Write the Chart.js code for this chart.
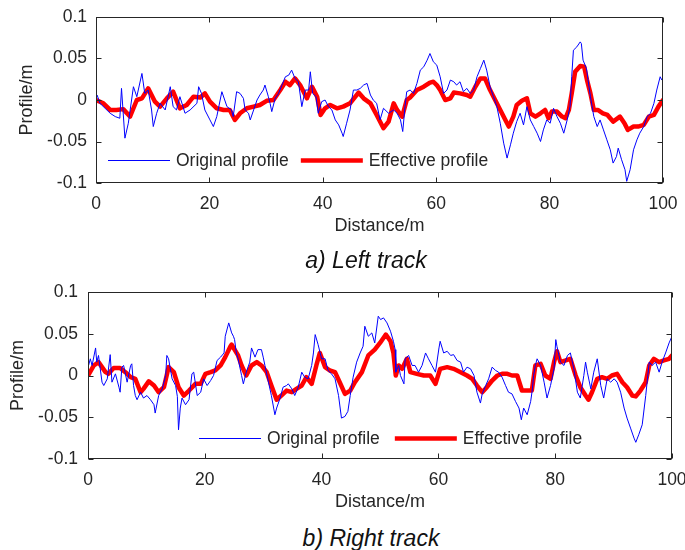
<!DOCTYPE html>
<html>
<head>
<meta charset="utf-8">
<script src="https://cdn.jsdelivr.net/npm/chart.js@4.4.0/dist/chart.umd.min.js"></script>
<style>
body{margin:0;background:#fff;width:685px;height:550px;position:relative;overflow:hidden;font-family:"Liberation Sans",Arial,sans-serif}
canvas{position:absolute;left:0}
.cap{position:absolute;font-style:italic;font-size:23px;line-height:23px;color:#111;white-space:nowrap;transform:translateX(-50%)}
</style>
</head>
<body>
<canvas id="leftTrack" width="685" height="240" style="top:0"></canvas>
<canvas id="rightTrack" width="685" height="250" style="top:270px"></canvas>
<div class="cap" style="left:366px;top:249px">a) Left track</div>
<div class="cap" style="left:371px;top:527px">b) Right track</div>
<script>
// left track, original profile (distance m / profile m)
var leftOrigDist=[0.2,0.7,1.6,2.5,3.4,4.2,4.5,5.1,5.7,6.6,7.2,8.1,8.6,9.2,9.8,10.1,10.7,11.3,12.2,13.1,13.6,14.2,14.8,15.7,16.6,17.8,18.1,18.6,19.2,20.1,20.7,21.3,22.2,23.1,23.9,24.2,24.8,25.4,26.0,26.3,26.9,27.2,27.8,28.4,28.9,29.5,29.8,30.4,30.7,31.0,31.6,32.2,32.8,33.4,34.0,34.5,35.1,35.7,36.3,36.9,37.5,37.8,38.2,38.8,39.2,39.8,40.4,41.0,41.6,42.2,42.8,43.4,43.6,44.2,44.8,45.4,46.0,46.6,47.2,47.8,48.4,48.9,49.5,50.1,50.7,51.6,52.5,53.1,53.7,54.1,54.5,54.8,55.4,56.0,56.6,57.2,57.8,58.4,58.9,59.5,60.1,60.7,61.3,61.9,62.5,63.1,63.6,64.2,64.8,65.4,66.0,66.6,67.2,67.8,68.4,68.9,69.5,70.1,70.7,71.3,71.9,72.5,73.1,73.6,74.2,74.8,75.4,76.0,76.6,77.2,77.8,78.4,78.9,79.5,80.1,80.7,81.3,81.9,82.5,83.1,83.6,83.9,84.2,84.8,85.4,85.6,85.9,86.5,87.2,87.8,88.4,88.9,89.5,90.1,90.7,91.2,91.8,92.1,92.7,93.3,93.6,94.2,94.8,95.4,95.9,96.6,97.2,97.8,98.4,98.9,99.5,99.8];
var leftOrigVal=[0.006,-0.004,-0.010,-0.016,-0.020,-0.022,0.014,-0.046,-0.028,0.016,0.004,0.032,0.008,0.012,-0.012,-0.032,-0.016,-0.004,-0.012,0.016,-0.008,-0.012,0.004,-0.016,-0.012,-0.004,0.016,0.008,-0.012,-0.024,-0.032,-0.020,0.010,-0.008,-0.012,-0.020,0.010,0.008,0.002,-0.012,-0.016,-0.024,-0.012,0,0.006,0.012,0.018,0.004,-0.004,-0.014,0.002,0.008,0.018,0.028,0.030,0.036,0.026,0.022,-0.008,0.012,0.012,0.034,0.008,0.004,-0.016,-0.002,0,-0.008,-0.012,-0.024,-0.030,-0.040,-0.044,-0.028,-0.012,0.012,0.012,0.014,0.018,0.020,0.006,0,-0.004,-0.024,-0.010,-0.016,-0.012,-0.016,-0.024,-0.038,-0.008,0.010,0.012,0.008,0.020,0.036,0.040,0.048,0.056,0.046,0.042,0.028,0.008,0.012,0.024,0.022,0.018,0.022,0.010,0.014,0.008,0.012,0.028,0.038,0.048,0.036,0.016,0.004,-0.008,-0.028,-0.052,-0.070,-0.054,-0.040,-0.026,-0.016,-0.030,-0.008,-0.024,-0.032,-0.040,-0.050,-0.036,-0.024,-0.028,-0.010,-0.020,-0.028,-0.040,-0.024,-0.008,0.028,0.060,0.064,0.070,0.068,0.048,0.038,0.004,-0.020,-0.032,-0.024,-0.036,-0.048,-0.060,-0.076,-0.068,-0.058,-0.072,-0.084,-0.098,-0.084,-0.060,-0.048,-0.040,-0.032,-0.020,-0.016,-0.004,0.012,0.028,0.024];
// left track, effective profile
var leftEffDist=[0,1.3,2.5,3.6,4.8,6.0,7.2,8.1,9.2,10.4,11.3,12.5,13.6,14.8,16.0,17.2,18.4,19.2,20.1,21.3,22.5,23.6,24.5,25.4,26.6,27.8,28.9,30.1,31.3,32.5,33.4,34.2,35.1,36.0,37.2,38.1,39.0,39.6,40.4,41.3,42.5,43.6,44.8,46.3,47.2,48.4,49.5,50.7,51.6,52.5,53.1,54.0,54.8,55.4,56.6,57.8,58.9,59.5,60.1,60.7,61.6,62.5,63.1,64.2,65.4,66.0,66.9,67.8,68.6,69.5,70.4,71.3,72.2,72.8,73.6,74.2,75.1,76.0,76.6,77.5,78.4,79.2,79.8,80.4,81.3,82.2,82.8,83.4,83.9,84.5,85.4,86.1,86.6,87.2,87.8,88.5,89.4,90.2,91.2,92.4,93.2,93.8,94.8,95.6,96.6,97.5,98.4,99.2,100];
var leftEffVal=[0,-0.004,-0.012,-0.012,-0.011,-0.020,0,0.002,0.014,-0.002,-0.008,0.002,0.010,-0.010,-0.006,0.004,0.003,0.008,-0.002,-0.010,-0.012,-0.012,-0.024,-0.016,-0.010,-0.008,-0.006,-0.001,0,0.012,0.022,0.018,0.026,0.018,0.002,0.016,0.004,-0.018,-0.010,-0.006,-0.010,-0.008,-0.004,0.009,0.002,-0.004,-0.018,-0.034,-0.026,-0.004,-0.012,-0.020,0,0.003,0.012,0.016,0.021,0.022,0.018,0.012,0,0.002,0.009,0.008,0.006,0.004,0.016,0.026,0.026,0.012,0,-0.012,-0.024,-0.032,-0.020,-0.006,-0.001,0.002,-0.016,-0.020,-0.016,-0.012,-0.022,-0.014,-0.014,-0.020,-0.022,-0.012,0.008,0.034,0.041,0.040,0.024,0.008,-0.012,-0.012,-0.016,-0.018,-0.026,-0.020,-0.028,-0.036,-0.032,-0.032,-0.030,-0.020,-0.018,-0.008,0];
// right track, original profile
var rightOrigDist=[0.1,0.4,0.7,1.3,1.5,1.8,2.1,2.4,2.7,3.3,3.8,4.1,4.7,5.3,5.5,5.8,6.1,6.7,7.3,7.5,7.8,8.1,8.4,9.0,9.5,10.1,10.7,11.3,11.5,12.1,12.7,13.3,13.5,13.8,14.4,15.0,15.3,15.5,15.8,16.1,16.7,17.3,17.8,18.1,18.7,19.3,19.8,20.4,21.0,21.5,22.1,22.7,23.3,23.5,24.1,24.6,24.9,25.1,25.4,25.7,26.3,26.6,27.1,27.7,28.0,28.6,29.1,29.7,30.0,30.3,30.9,31.4,32.0,32.3,32.9,33.4,34.0,34.3,34.9,35.4,36.0,36.6,37.1,37.7,38.3,38.6,38.9,39.4,40.0,40.6,41.1,41.7,42.3,42.9,43.4,44.0,44.5,44.9,45.4,46.0,46.6,47.1,47.4,48.0,48.6,49.1,49.7,50.1,50.6,51.2,51.8,52.3,52.6,52.7,53.2,53.5,54.1,54.3,54.9,55.5,56.0,56.6,57.2,57.8,58.3,58.9,59.5,60.1,60.3,60.9,61.5,62.1,62.6,63.2,63.8,64.3,64.9,65.5,66.1,66.6,67.2,67.5,68.1,68.6,69.2,69.8,70.3,70.9,71.5,72.0,72.6,73.2,73.8,74.2,74.6,75.2,75.8,76.1,76.3,76.6,76.9,77.5,78.1,78.6,79.2,79.8,80.1,80.3,80.9,81.5,82.1,82.6,83.2,83.8,84.3,84.9,85.2,85.5,86.1,86.6,87.2,87.8,88.3,88.9,89.5,90.1,90.6,91.2,91.8,92.3,92.9,93.5,93.8,94.3,94.9,95.5,96.1,96.6,97.2,97.8,98.3,98.9,99.5,100];
var rightOrigVal=[0.012,0.020,0.012,0.033,0.016,0.024,0.008,-0.008,-0.012,-0.004,0.025,-0.008,0.002,-0.014,-0.020,0.010,0.012,-0.008,0.012,0.014,-0.012,-0.024,-0.029,-0.020,-0.027,-0.024,-0.029,-0.035,-0.045,-0.024,-0.016,0,0.024,0.020,-0.004,-0.012,-0.025,-0.065,-0.039,-0.027,-0.035,-0.029,0.002,0.004,-0.024,-0.020,-0.004,-0.012,-0.006,0,0.018,0.022,0.027,0.047,0.063,0.051,0.047,0.043,0.027,0.020,0,-0.010,0.004,0.016,0.033,0.022,0.031,0.031,0.022,0.012,-0.008,-0.024,-0.047,-0.039,-0.027,-0.014,-0.012,-0.010,-0.016,-0.024,-0.014,0.004,-0.002,-0.004,0.012,0.027,0.049,0.037,0.020,0.020,0.006,0.002,-0.004,-0.024,-0.051,-0.049,-0.043,-0.024,-0.002,0.016,0.027,0.035,0.059,0.047,0.051,0.039,0.071,0.067,0.069,0.063,0.053,0.041,0.031,0.004,0.012,0,-0.010,0.020,0.024,0.012,0.012,0.004,0.012,0.027,0.020,0.012,0.004,0.033,0.041,0.027,0.029,0.024,0.025,0.018,0.016,0.004,0.010,0.008,0,-0.020,-0.033,-0.022,-0.012,-0.004,0.010,0.006,0.004,-0.002,-0.012,-0.020,-0.022,-0.031,-0.039,-0.053,-0.039,-0.047,-0.031,-0.016,0,0.012,0.020,0.012,-0.008,-0.027,-0.012,0.008,0.043,0.035,0.016,0.012,0.024,0.027,0.008,-0.020,-0.027,0,0.016,0.004,-0.016,0.004,0.020,-0.012,-0.027,-0.004,-0.008,-0.004,-0.008,-0.020,-0.039,-0.051,-0.063,-0.075,-0.080,-0.071,-0.059,-0.024,0.016,0.012,0.016,0.004,0.016,0.027,0.039,0.047];
// right track, effective profile
var rightEffDist=[0.1,1.0,1.8,3.0,3.5,4.4,5.5,6.4,7.3,8.1,9.0,9.5,10.4,11.3,12.1,13.0,13.8,14.7,15.5,16.4,17.3,18.4,19.3,20.1,21.0,21.8,22.7,23.5,24.4,24.6,25.1,25.7,26.3,27.1,28.0,28.9,29.7,30.6,31.4,32.3,33.1,34.0,34.9,35.7,36.6,37.4,38.3,39.1,39.7,40.6,41.4,42.3,43.1,44.0,44.9,45.7,46.9,48.0,49.1,50.0,51.0,51.8,52.3,52.7,53.2,53.8,54.6,55.2,56.3,57.5,58.6,59.5,60.3,61.5,62.6,63.8,64.9,65.8,66.6,67.5,68.3,69.2,70.1,70.9,71.8,72.6,73.5,74.3,75.2,76.0,76.6,77.5,78.3,79.2,79.8,80.3,80.9,81.8,82.6,83.5,84.3,85.2,85.7,86.3,87.2,88.0,88.9,89.7,90.6,91.5,92.3,93.2,93.8,94.6,95.5,96.1,96.9,97.8,98.6,99.5,100];
var rightEffVal=[0.001,0.012,0.016,0.004,0.002,0.009,0.009,0.004,-0.002,-0.004,-0.020,-0.016,-0.007,-0.012,-0.020,-0.014,0.010,0.004,-0.014,-0.024,-0.018,-0.010,-0.010,0.002,0.004,0.006,0.012,0.022,0.035,0.037,0.031,0.024,0.012,0,0.012,0.016,0.012,0.004,-0.012,-0.029,-0.024,-0.018,-0.020,-0.016,-0.012,-0.002,-0.010,0.012,0.027,0.010,0.006,0.004,-0.008,-0.022,-0.018,-0.008,0.004,0.024,0.031,0.039,0.049,0.041,0.027,0,0.012,0.008,0.020,0.004,0.002,0,0,-0.010,0.008,0.010,0.008,0.004,0,-0.004,-0.012,-0.020,-0.014,-0.006,0,0.002,0.002,0,0,-0.018,-0.018,-0.018,0.012,0.014,0,-0.004,0.016,0.029,0.016,0.018,0.020,0,-0.014,-0.024,-0.029,-0.020,-0.004,-0.002,-0.004,0,0.002,-0.008,-0.014,-0.024,-0.025,-0.018,-0.008,0.012,0.020,0.016,0.018,0.020,0.024];

var xTicks=[0,20,40,60,80,100];
var yTicks=[-0.1,-0.05,0,0.05,0.1];
var seriesNames=['Original profile','Effective profile'];

var fontFamily='"Liberation Sans", Arial, sans-serif';
var textColor='#262626';

function pts(xs,ys){
	var out=[];
	for(var i in xs){ out.push({x:xs[i],y:ys[i]}); }
	return out;
}

// box with inward ticks + legend inside the plot, MATLAB style
var frameLegend={
	id:'frameLegend',
	afterDatasetsDraw:function(chart){
		var ctx=chart.ctx, a=chart.chartArea, sx=chart.scales.x, sy=chart.scales.y;
		var l=Math.round(a.left)+0.5, r=Math.round(a.right)-0.5, t=Math.round(a.top)+0.5, b=Math.round(a.bottom)-0.5;
		ctx.save();
		ctx.strokeStyle='#262626';
		ctx.lineWidth=1;
		ctx.beginPath();
		sx.ticks.forEach(function(tk){
			var px=Math.round(sx.getPixelForValue(tk.value))+0.5;
			ctx.moveTo(px,b); ctx.lineTo(px,b-5);
			ctx.moveTo(px,t); ctx.lineTo(px,t+5);
		});
		sy.ticks.forEach(function(tk){
			var py=Math.round(sy.getPixelForValue(tk.value))+0.5;
			ctx.moveTo(l,py); ctx.lineTo(l+5,py);
			ctx.moveTo(r,py); ctx.lineTo(r-5,py);
		});
		ctx.stroke();
		ctx.strokeRect(l,t,r-l,b-t);

		var lg=chart.options.plugins.frameLegend;
		var x=a.left+lg.dx, y=Math.round(a.bottom-lg.dy)+0.5;
		ctx.font='17.5px '+fontFamily;
		ctx.textBaseline='middle';
		ctx.fillStyle=textColor;
		chart.data.datasets.forEach(function(ds){
			ctx.strokeStyle=ds.borderColor;
			ctx.lineWidth=ds.borderWidth;
			ctx.beginPath();
			ctx.moveTo(x,y); ctx.lineTo(x+62,y);
			ctx.stroke();
			ctx.fillText(ds.label,x+68,y+1);
			x+=68+ctx.measureText(ds.label).width+lg.gap;
		});
		ctx.restore();
	}
};

function makeChart(id,origDist,origVal,effDist,effVal,box){
	var ctx=document.getElementById(id);
	return new Chart(ctx,{
		type:'scatter',
		data:{
			datasets:[
				{
					label:seriesNames[0],
					data:pts(origDist,origVal),
					showLine:true,
					borderColor:'#0000ff',
					borderWidth:1,
					pointRadius:0,
					tension:0
				},
				{
					label:seriesNames[1],
					data:pts(effDist,effVal),
					showLine:true,
					borderColor:'#ff0000',
					borderWidth:4.5,
					pointRadius:0,
					tension:0,
					borderJoinStyle:'round',
					borderCapStyle:'round'
				}
			]
		},
		options:{
			responsive:false,
			animation:false,
			devicePixelRatio:1,
			layout:{padding:{left:0,top:box.top,right:685-box.right,bottom:0}},
			plugins:{
				legend:{display:false},
				tooltip:{enabled:false},
				frameLegend:{dx:box.legDx,dy:box.legDy,gap:box.legGap}
			},
			scales:{
				x:{
					type:'linear',
					min:0,max:100,
					afterBuildTicks:function(s){ s.ticks=xTicks.map(function(v){return {value:v};}); },
					// fixed box: no extra room for edge labels
					afterFit:function(s){ s.height=ctx.height-box.bottom; s.paddingLeft=0; s.paddingRight=0; },
					grid:{display:false,drawTicks:false},
					border:{display:false},
					ticks:{autoSkip:false,maxRotation:0,padding:box.xTickPad,color:textColor,font:{family:fontFamily,size:17.5}},
					title:{display:true,text:'Distance/m',color:textColor,font:{family:fontFamily,size:18},padding:{top:0,bottom:box.xTitlePad}}
				},
				y:{
					min:-0.1,max:0.1,
					afterBuildTicks:function(s){ s.ticks=yTicks.map(function(v){return {value:v};}); },
					afterFit:function(s){ s.width=box.left; s.paddingTop=0; s.paddingBottom=0; },
					grid:{display:false,drawTicks:false},
					border:{display:false},
					ticks:{padding:box.yTickPad,color:textColor,font:{family:fontFamily,size:17.5},
						callback:function(v){ return String(Math.round(v*100)/100); }},
					title:{display:true,text:'Profile/m',color:textColor,font:{family:fontFamily,size:18},padding:{top:box.yTitlePad,bottom:0}}
				}
			}
		},
		plugins:[frameLegend]
	});
}

makeChart('leftTrack',leftOrigDist,leftOrigVal,leftEffDist,leftEffVal,
	{left:96,top:17,right:663,bottom:183,xTickPad:11,xTitlePad:3,yTickPad:9,yTitlePad:16,legDx:12,legDy:23,legGap:12});
makeChart('rightTrack',rightOrigDist,rightOrigVal,rightEffDist,rightEffVal,
	{left:88,top:22,right:672,bottom:189,xTickPad:11,xTitlePad:7,yTickPad:10,yTitlePad:7,legDx:111,legDy:21,legGap:15});
</script>
</body>
</html>
